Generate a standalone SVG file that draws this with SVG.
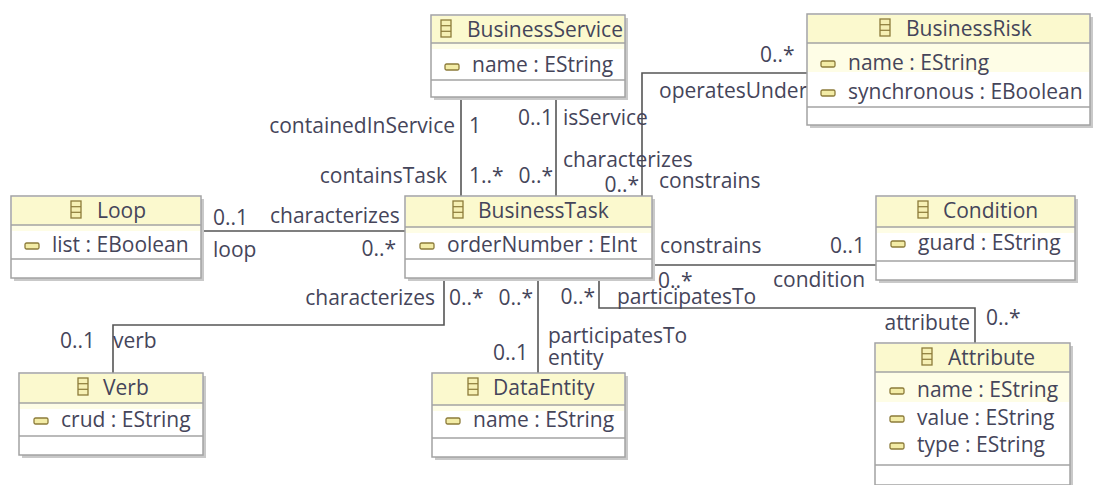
<svg xmlns="http://www.w3.org/2000/svg" width="1093" height="485" viewBox="0 0 1093 485">
<style>
text{font-family:"Open Sans","Noto Sans","DejaVu Sans",sans-serif;font-size:21px;fill:#45455a}
.lbl{}
.end{text-anchor:end}
.shadow{fill:#c9c9c9}
.body{fill:#ffffff;stroke:#a3a3a3;stroke-width:1.5}
.head{fill:#fbf9ce}
.band{fill:#fefde6}
.sep{stroke:#a3a3a3;stroke-width:1.5}
.cls{fill:#f6f0b4;stroke:#8c7b3a;stroke-width:1.3}
.att{fill:#f3eca6;stroke:#8c7b3a;stroke-width:1.3}
.conn path{fill:none;stroke:#555555;stroke-width:1.6}
</style>
<defs>
<g id="clsIcon"><rect class="cls" x="0" y="0" width="10" height="17"/><line x1="0" y1="5.7" x2="10" y2="5.7" stroke="#8c7b3a" stroke-width="1.2"/><line x1="0" y1="11.3" x2="10" y2="11.3" stroke="#8c7b3a" stroke-width="1.2"/></g>
<rect id="attIcon" class="att" x="0" y="0" width="14" height="6" rx="1.5"/>
</defs>

<g id="connectors" class="conn">
<path d="M461,97 V196"/>
<path d="M556,97 V196"/>
<path d="M807,73 H642 V196"/>
<path d="M201,231 H405"/>
<path d="M652,265 H876"/>
<path d="M599,278 V308 H975 V343"/>
<path d="M538,278 V373"/>
<path d="M444,278 V325 H113 V373"/>
</g>

<g id="labels">
<text class="end" x="455" y="133">containedInService</text>
<text x="469" y="133">1</text>
<text class="end" x="447" y="183">containsTask</text>
<text x="469" y="183">1..*</text>
<text class="end" x="553" y="125">0..1</text>
<text x="563" y="125">isService</text>
<text x="563" y="167">characterizes</text>
<text class="end" x="553" y="183">0..*</text>
<text x="760" y="62">0..*</text>
<text x="659" y="98">operatesUnder</text>
<text class="end" x="639" y="192">0..*</text>
<text x="659" y="188">constrains</text>
<text x="213" y="225">0..1</text>
<text x="270" y="223">characterizes</text>
<text x="213" y="257">loop</text>
<text class="end" x="396" y="256">0..*</text>
<text x="660" y="253">constrains</text>
<text class="end" x="865" y="253">0..1</text>
<text x="658" y="288">0..*</text>
<text x="773" y="287">condition</text>
<text class="end" x="595" y="304">0..*</text>
<text x="617" y="304">participatesTo</text>
<text class="end" x="970" y="330">attribute</text>
<text x="986" y="325">0..*</text>
<text class="end" x="435" y="305">characterizes</text>
<text x="449" y="305">0..*</text>
<text class="end" x="533" y="305">0..*</text>
<text x="548" y="343">participatesTo</text>
<text x="548" y="365">entity</text>
<text class="end" x="528" y="360">0..1</text>
<text x="60" y="348">0..1</text>
<text x="113" y="348">verb</text>
</g>

<g id="BusinessService">
<rect class="shadow" x="434" y="18" width="194" height="82"/>
<rect class="body" x="431" y="15" width="194" height="82"/>
<rect class="head" x="432" y="16" width="192" height="27"/>
<rect class="band" x="432" y="43" width="192" height="6"/>
<line class="sep" x1="431" y1="43" x2="625" y2="43"/>
<line class="sep" x1="431" y1="80" x2="625" y2="80"/>
<use href="#clsIcon" x="441" y="20"/>
<text x="467" y="37">BusinessService</text>
<use href="#attIcon" x="445" y="64"/>
<text x="472" y="72">name : EString</text>
</g>

<g id="BusinessRisk">
<rect class="shadow" x="810" y="17" width="283" height="111"/>
<rect class="body" x="807" y="14" width="283" height="111"/>
<rect class="head" x="808" y="15" width="281" height="28"/>
<rect class="band" x="808" y="43" width="281" height="29"/>
<line class="sep" x1="807" y1="43" x2="1090" y2="43"/>
<line class="sep" x1="807" y1="107" x2="1090" y2="107"/>
<use href="#clsIcon" x="880" y="19"/>
<text x="906" y="36">BusinessRisk</text>
<use href="#attIcon" x="821" y="61"/>
<text x="848" y="70">name : EString</text>
<use href="#attIcon" x="821" y="90"/>
<text x="848" y="99">synchronous : EBoolean</text>
</g>

<g id="Loop">
<rect class="shadow" x="14" y="199" width="190" height="82"/>
<rect class="body" x="11" y="196" width="190" height="82"/>
<rect class="head" x="12" y="197" width="188" height="28"/>
<rect class="band" x="12" y="225" width="188" height="6"/>
<line class="sep" x1="11" y1="225" x2="201" y2="225"/>
<line class="sep" x1="11" y1="259" x2="201" y2="259"/>
<use href="#clsIcon" x="71" y="201"/>
<text x="97" y="218">Loop</text>
<use href="#attIcon" x="25" y="243"/>
<text x="52" y="252">list : EBoolean</text>
</g>

<g id="BusinessTask">
<rect class="shadow" x="408" y="199" width="247" height="82"/>
<rect class="body" x="405" y="196" width="247" height="82"/>
<rect class="head" x="406" y="197" width="245" height="30"/>
<rect class="band" x="406" y="227" width="245" height="6"/>
<line class="sep" x1="405" y1="227" x2="652" y2="227"/>
<line class="sep" x1="405" y1="259" x2="652" y2="259"/>
<use href="#clsIcon" x="453" y="201"/>
<text x="478" y="218">BusinessTask</text>
<use href="#attIcon" x="420" y="243"/>
<text x="447" y="252">orderNumber : EInt</text>
</g>

<g id="Condition">
<rect class="shadow" x="879" y="199" width="199" height="84"/>
<rect class="body" x="876" y="196" width="199" height="84"/>
<rect class="head" x="877" y="197" width="197" height="30"/>
<rect class="band" x="877" y="227" width="197" height="6"/>
<line class="sep" x1="876" y1="227" x2="1075" y2="227"/>
<line class="sep" x1="876" y1="261" x2="1075" y2="261"/>
<use href="#clsIcon" x="918" y="201"/>
<text x="943" y="218">Condition</text>
<use href="#attIcon" x="891" y="241"/>
<text x="918" y="250">guard : EString</text>
</g>

<g id="Verb">
<rect class="shadow" x="22" y="376" width="184" height="82"/>
<rect class="body" x="19" y="373" width="184" height="82"/>
<rect class="head" x="20" y="374" width="182" height="29"/>
<rect class="band" x="20" y="403" width="182" height="6"/>
<line class="sep" x1="19" y1="403" x2="203" y2="403"/>
<line class="sep" x1="19" y1="436" x2="203" y2="436"/>
<use href="#clsIcon" x="78" y="378"/>
<text x="103" y="395">Verb</text>
<use href="#attIcon" x="34" y="418"/>
<text x="61" y="427">crud : EString</text>
</g>

<g id="DataEntity">
<rect class="shadow" x="435" y="376" width="193" height="84"/>
<rect class="body" x="432" y="373" width="193" height="84"/>
<rect class="head" x="433" y="374" width="191" height="31"/>
<rect class="band" x="433" y="405" width="191" height="6"/>
<line class="sep" x1="432" y1="405" x2="625" y2="405"/>
<line class="sep" x1="432" y1="438" x2="625" y2="438"/>
<use href="#clsIcon" x="468" y="378"/>
<text x="493" y="395">DataEntity</text>
<use href="#attIcon" x="446" y="418"/>
<text x="473" y="427">name : EString</text>
</g>

<g id="Attribute">
<rect class="shadow" x="878" y="346" width="195" height="142"/>
<rect class="body" x="875" y="343" width="195" height="142"/>
<rect class="head" x="876" y="344" width="193" height="28"/>
<rect class="band" x="876" y="372" width="193" height="30"/>
<line class="sep" x1="875" y1="372" x2="1070" y2="372"/>
<line class="sep" x1="875" y1="465" x2="1070" y2="465"/>
<use href="#clsIcon" x="922" y="348"/>
<text x="948" y="365">Attribute</text>
<use href="#attIcon" x="890" y="388"/>
<text x="917" y="397">name : EString</text>
<use href="#attIcon" x="890" y="416"/>
<text x="917" y="425">value : EString</text>
<use href="#attIcon" x="890" y="443"/>
<text x="917" y="452">type : EString</text>
</g>
</svg>
